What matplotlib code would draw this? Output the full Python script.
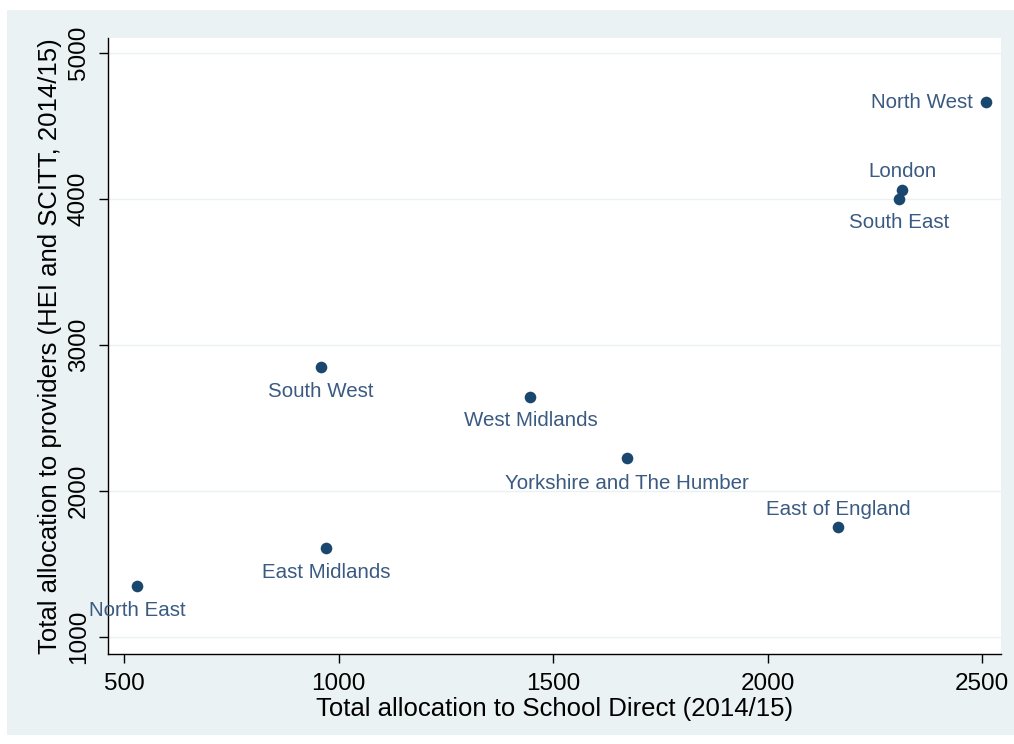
import matplotlib
matplotlib.use("Agg")
import matplotlib.pyplot as plt
from matplotlib.patches import Rectangle

regions = ["North West", "London", "South East", "South West", "West Midlands",
           "Yorkshire and The Humber", "East of England", "East Midlands", "North East"]
school_direct = [2508, 2314, 2307, 959, 1447, 1673, 2165, 971, 530]
providers = [4664, 4062, 4000, 2849, 2644, 2226, 1753, 1610, 1349]
# label placement: (dx, dy in points, ha)
label_pos = {
    "North West": (-9, 0, "right"),
    "London": (0, 13.5, "center"),
    "South East": (0, -17, "center"),
    "South West": (0, -17.5, "center"),
    "West Midlands": (0, -17, "center"),
    "Yorkshire and The Humber": (0, -18, "center"),
    "East of England": (0, 13, "center"),
    "East Midlands": (0, -18, "center"),
    "North East": (0, -17.5, "center"),
}
xticks = [500, 1000, 1500, 2000, 2500]
yticks = [1000, 2000, 3000, 4000, 5000]

plt.rcParams['font.family'] = ['Liberation Sans', 'DejaVu Sans']
W, H = 1014, 744
fig = plt.figure(figsize=(W / 100, H / 100), dpi=100)
fig.patch.set_facecolor("white")
bg = "#eaf2f3"
fig.patches.append(Rectangle((7 / W, 1 - 735 / H), 1 - 7 / W, (735 - 10) / H,
                             transform=fig.transFigure, facecolor=bg, edgecolor="none", zorder=-5))

ax = fig.add_axes([108 / W, 1 - 654 / H, (1001 - 108) / W, (654 - 38) / H])
ax.set_zorder(2)
ax.set_facecolor("white")
ax.set_xlim(462, 2544)
ax.set_ylim(884, 5103)

ax.scatter(school_direct, providers, s=70, color="#1a476f", marker="o", zorder=3, linewidths=0)
for name, x, y in zip(regions, school_direct, providers):
    dx, dy, ha = label_pos[name]
    ax.annotate(name, (x, y), xytext=(dx, dy), textcoords="offset points",
                ha=ha, va="center", fontsize=14.8, color="#3a5a82", zorder=4,
                annotation_clip=False)

ax.set_xticks(xticks)
ax.set_yticks(yticks)
ax.set_xticklabels([str(t) for t in xticks], fontsize=17.5)
ax.set_yticklabels([str(t) for t in yticks], fontsize=17.5, rotation=90, va="center")
ax.tick_params(axis="x", direction="out", length=6.5, width=1, color="black", pad=7.5)
ax.tick_params(axis="y", direction="out", length=6.5, width=1, color="black", pad=6.5)
ax.yaxis.grid(True, color=bg, linewidth=1)
ax.set_axisbelow(True)
for side in ["top", "right"]:
    ax.spines[side].set_visible(False)
for side in ["left", "bottom"]:
    ax.spines[side].set_color("black")
    ax.spines[side].set_linewidth(1)

ax.set_xlabel("Total allocation to School Direct (2014/15)", fontsize=18.5, labelpad=1)
ax.set_ylabel("Total allocation to providers (HEI and SCITT, 2014/15)", fontsize=18.5, labelpad=4)

fig.savefig("out.png", dpi=100)
